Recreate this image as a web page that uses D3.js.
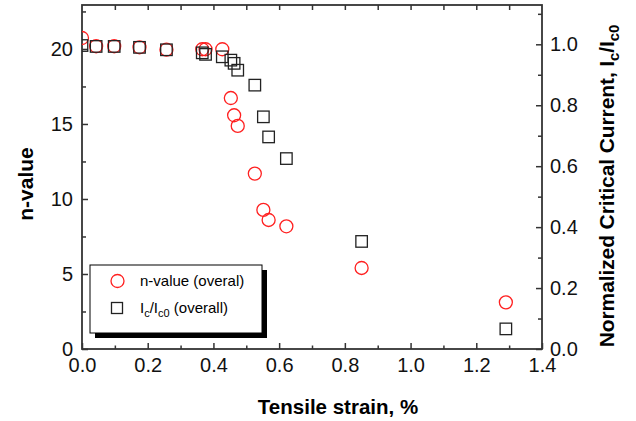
<!DOCTYPE html>
<html>
<head>
<meta charset="utf-8">
<script src="https://cdn.jsdelivr.net/npm/d3@7"></script>
<style>
  body { margin: 0; background: #fff; }
  text { font-family: "Liberation Sans", Arial, sans-serif; }
</style>
</head>
<body>
<div id="chart"></div>
<script>
// tensile strain (%) for each measurement
var strain = [0, 0.043, 0.098, 0.175, 0.257, 0.366, 0.376, 0.427, 0.453, 0.463, 0.474, 0.526, 0.552, 0.568, 0.622, 0.851, 1.29];
// n-value (left axis)
var nValue = [20.73, 20.18, 20.18, 20.11, 19.95, 19.98, 19.98, 19.98, 16.73, 15.58, 14.87, 11.69, 9.27, 8.6, 8.18, 5.4, 3.11];
// Ic/Ic0 (right axis)
var icRatio = [0.996, 0.993, 0.993, 0.990, 0.982, 0.972, 0.967, 0.959, 0.948, 0.9375, 0.915, 0.866, 0.762, 0.696, 0.625, 0.353, 0.066];

var xTicks = [0, 0.2, 0.4, 0.6, 0.8, 1.0, 1.2, 1.4];
var nTicks = [0, 5, 10, 15, 20];
var icTicks = [0, 0.2, 0.4, 0.6, 0.8, 1.0];

var w = 636;
var h = 421;
var margin = { top: 5, right: 94, bottom: 72, left: 82 };
var innerWidth = w - margin.left - margin.right;
var innerHeight = h - margin.top - margin.bottom;

var svg = d3.select("#chart")
  .append("svg")
  .attr("width", w)
  .attr("height", h);

var xScale = d3.scaleLinear().domain([0, 1.4]).range([margin.left, margin.left + innerWidth]);
var yLeft = d3.scaleLinear().domain([0, 22.93]).range([margin.top + innerHeight, margin.top]);
var yRight = d3.scaleLinear().domain([0, 1.129]).range([margin.top + innerHeight, margin.top]);

var axisColor = "#333";

// clip markers to the frame
svg.append("clipPath").attr("id", "plotclip")
  .append("rect")
  .attr("x", margin.left).attr("y", margin.top)
  .attr("width", innerWidth).attr("height", innerHeight);

function styleAxis(g) {
  g.select(".domain").remove();
  g.selectAll(".tick line").attr("stroke", axisColor).attr("stroke-width", 1.5);
  g.selectAll(".tick text")
    .attr("fill", "#111")
    .style("font-size", "20px");
}

// tick marks only, no labels
function ticksOnly(g) {
  styleAxis(g);
  g.selectAll(".tick text").remove();
}

// minor ticks
var xMinor = d3.range(0.1, 1.4, 0.2);
var nMinor = [2.5, 7.5, 12.5, 17.5, 22.5];
var icMinor = [0.1, 0.3, 0.5, 0.7, 0.9, 1.1];

// bottom axis
svg.append("g")
  .attr("transform", "translate(0," + (margin.top + innerHeight) + ")")
  .call(d3.axisBottom(xScale).tickValues(xTicks).tickFormat(d3.format(".1f"))
    .tickSizeInner(-6).tickSizeOuter(0).tickPadding(9))
  .call(styleAxis);
svg.append("g")
  .attr("transform", "translate(0," + (margin.top + innerHeight) + ")")
  .call(d3.axisBottom(xScale).tickValues(xMinor)
    .tickSizeInner(-3.5).tickSizeOuter(0))
  .call(ticksOnly);

// top axis (ticks only)
svg.append("g")
  .attr("transform", "translate(0," + margin.top + ")")
  .call(d3.axisTop(xScale).tickValues(d3.range(0.1, 1.4, 0.1))
    .tickSizeInner(-5).tickSizeOuter(0))
  .call(ticksOnly);

// left axis
svg.append("g")
  .attr("transform", "translate(" + margin.left + ",0)")
  .call(d3.axisLeft(yLeft).tickValues(nTicks).tickFormat(d3.format("d"))
    .tickSizeInner(-6).tickSizeOuter(0).tickPadding(9))
  .call(styleAxis);
svg.append("g")
  .attr("transform", "translate(" + margin.left + ",0)")
  .call(d3.axisLeft(yLeft).tickValues(nMinor)
    .tickSizeInner(-4).tickSizeOuter(0))
  .call(ticksOnly);

// right axis
svg.append("g")
  .attr("transform", "translate(" + (margin.left + innerWidth) + ",0)")
  .call(d3.axisRight(yRight).tickValues(icTicks).tickFormat(d3.format(".1f"))
    .tickSizeInner(-6).tickSizeOuter(0).tickPadding(8))
  .call(styleAxis);
svg.append("g")
  .attr("transform", "translate(" + (margin.left + innerWidth) + ",0)")
  .call(d3.axisRight(yRight).tickValues(icMinor)
    .tickSizeInner(-4).tickSizeOuter(0))
  .call(ticksOnly);

// frame
svg.append("rect")
  .attr("x", margin.left).attr("y", margin.top)
  .attr("width", innerWidth).attr("height", innerHeight)
  .attr("fill", "none")
  .attr("stroke", axisColor)
  .attr("stroke-width", 1.8);

var points = strain.map(function(s, i) { return { s: s, n: nValue[i], ic: icRatio[i] }; });

var marks = svg.append("g").attr("clip-path", "url(#plotclip)");

// n-value circles
marks.selectAll("circle")
  .data(points)
  .enter()
  .append("circle")
  .attr("cx", function(d) { return xScale(d.s); })
  .attr("cy", function(d) { return yLeft(d.n); })
  .attr("r", 6.5)
  .attr("fill", "none")
  .attr("stroke", "#ff2020")
  .attr("stroke-width", 1.3);

// Ic/Ic0 squares
var sq = 11.5;
marks.selectAll("rect")
  .data(points)
  .enter()
  .append("rect")
  .attr("x", function(d) { return xScale(d.s) - sq / 2; })
  .attr("y", function(d) { return yRight(d.ic) - sq / 2; })
  .attr("width", sq)
  .attr("height", sq)
  .attr("fill", "none")
  .attr("stroke", "#222")
  .attr("stroke-width", 1.3);

// axis titles
svg.append("text")
  .attr("x", 338)
  .attr("y", 414)
  .attr("text-anchor", "middle")
  .style("font-size", "20.5px")
  .style("font-weight", "bold")
  .text("Tensile strain, %");

svg.append("text")
  .attr("transform", "translate(33,184)rotate(-90)")
  .attr("text-anchor", "middle")
  .style("font-size", "21px")
  .style("font-weight", "bold")
  .text("n-value");

var rt = svg.append("text")
  .attr("transform", "translate(614,186)rotate(-90)")
  .attr("text-anchor", "middle")
  .style("font-size", "21px")
  .style("font-weight", "bold")
  .style("letter-spacing", "-0.1px");
rt.append("tspan").text("Normalized Critical Current, I");
rt.append("tspan").attr("dy", 5).style("font-size", "15px").text("c");
rt.append("tspan").attr("dy", -5).text("/I");
rt.append("tspan").attr("dy", 5).style("font-size", "15px").text("c0");

// legend
var legend = svg.append("g").attr("class", "legend");
legend.append("rect")
  .attr("x", 95).attr("y", 270).attr("width", 172).attr("height", 68)
  .attr("fill", "#000");
legend.append("rect")
  .attr("x", 90).attr("y", 265).attr("width", 172).attr("height", 68)
  .attr("fill", "#fff")
  .attr("stroke", "#000")
  .attr("stroke-width", 1);

legend.append("circle")
  .attr("cx", 117.5).attr("cy", 281).attr("r", 6.5)
  .attr("fill", "none").attr("stroke", "#ff2020").attr("stroke-width", 1.3);
legend.append("text")
  .attr("x", 140).attr("y", 286)
  .style("font-size", "15px")
  .text("n-value (overal)");

legend.append("rect")
  .attr("x", 117 - 5.5).attr("y", 308 - 5.5).attr("width", 11).attr("height", 11)
  .attr("fill", "none").attr("stroke", "#222").attr("stroke-width", 1.3);
var lt = legend.append("text")
  .attr("x", 140).attr("y", 313)
  .style("font-size", "15px");
lt.append("tspan").text("I");
lt.append("tspan").attr("dy", 4).style("font-size", "11px").text("c");
lt.append("tspan").attr("dy", -4).text("/I");
lt.append("tspan").attr("dy", 4).style("font-size", "11px").text("c0");
lt.append("tspan").attr("dy", -4).text(" (overall)");
</script>
</body>
</html>
